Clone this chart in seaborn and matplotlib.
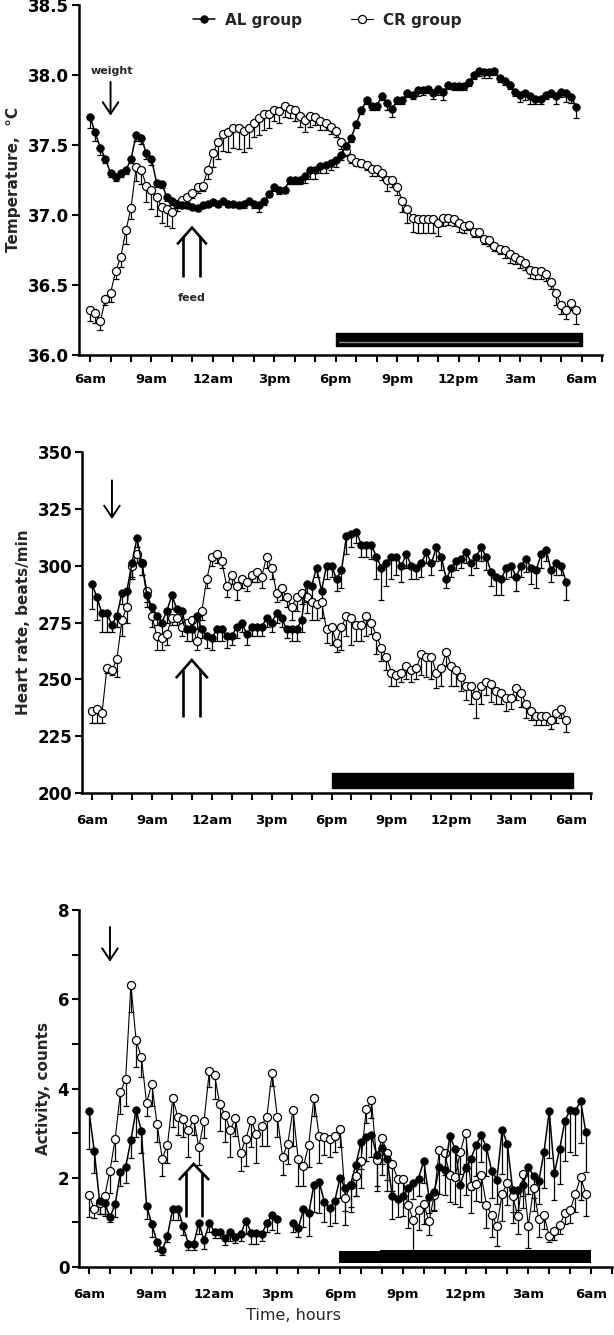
import numpy as np
import pandas as pd
import matplotlib
matplotlib.use("Agg")
import matplotlib.pyplot as plt
import seaborn as sns
from matplotlib.patches import Rectangle

# ---------------- data (15-min means, 6am -> 5:45am) ----------------
hours = np.arange(0, 24, 0.25)
tick_hours = [0, 3, 6, 9, 12, 15, 18, 21, 24]
tick_labels = ["6am", "9am", "12am", "3pm", "6pm", "9pm", "12pm", "3am", "6am"]
series_names = ["AL group", "CR group"]

temp_al = [37.70, 37.59, 37.48, 37.40, 37.30, 37.27, 37.30, 37.32, 37.40, 37.57,
           37.55, 37.44, 37.40, 37.23, 37.22, 37.13, 37.10, 37.08, 37.07, 37.07,
           37.06, 37.05, 37.07, 37.08, 37.09, 37.08, 37.10, 37.08, 37.08, 37.07,
           37.08, 37.10, 37.08, 37.07, 37.10, 37.15, 37.20, 37.18, 37.18, 37.25,
           37.25, 37.25, 37.28, 37.32, 37.32, 37.35, 37.36, 37.37, 37.39, 37.43,
           37.49, 37.55, 37.65, 37.75, 37.82, 37.78, 37.78, 37.85, 37.80, 37.76,
           37.82, 37.82, 37.87, 37.86, 37.89, 37.89, 37.90, 37.87, 37.90, 37.88,
           37.93, 37.92, 37.92, 37.92, 37.95, 38.00, 38.03, 38.02, 38.02, 38.03,
           37.98, 37.96, 37.93, 37.88, 37.86, 37.87, 37.85, 37.83, 37.83, 37.86,
           37.87, 37.85, 37.88, 37.87, 37.84, 37.77]
temp_al_err = [.08, .06, .05, .03, .03, .03, .03, .03, .03, .04,
               .04, .04, .04, .03, .03, .03, .03, .03, .02, .02,
               .02, .02, .02, .02, .02, .02, .02, .02, .02, .02,
               .03, .02, .03, .05, .03, .02, .03, .03, .02, .03,
               .03, .03, .05, .06, .06, .05, .06, .05, .05, .04,
               .03, .03, .03, .03, .03, .03, .03, .03, .05, .06,
               .03, .03, .03, .03, .04, .03, .03, .04, .04, .06,
               .03, .03, .03, .03, .03, .03, .04, .04, .04, .03,
               .03, .03, .03, .03, .05, .05, .06, .04, .04, .03,
               .03, .06, .04, .06, .04, .08]
temp_cr = [36.32, 36.30, 36.24, 36.40, 36.44, 36.60, 36.70, 36.89, 37.05, 37.34,
           37.32, 37.21, 37.18, 37.13, 37.06, 37.04, 37.02, 37.08, 37.11, 37.13,
           37.16, 37.20, 37.21, 37.32, 37.44, 37.52, 37.58, 37.59, 37.62, 37.62,
           37.60, 37.62, 37.66, 37.69, 37.72, 37.72, 37.75, 37.74, 37.78, 37.76,
           37.75, 37.71, 37.68, 37.71, 37.70, 37.67, 37.66, 37.63, 37.60, 37.52,
           37.46, 37.41, 37.38, 37.37, 37.36, 37.33, 37.33, 37.30, 37.25, 37.25,
           37.20, 37.10, 37.04, 36.98, 36.97, 36.97, 36.97, 36.97, 36.94, 36.98,
           36.98, 36.97, 36.94, 36.92, 36.93, 36.88, 36.88, 36.83, 36.82, 36.78,
           36.76, 36.75, 36.72, 36.70, 36.68, 36.66, 36.61, 36.60, 36.60, 36.58,
           36.52, 36.44, 36.36, 36.32, 36.37, 36.32]
temp_cr_err = [.08, .07, .06, .04, .06, .06, .07, .10, .08, .10,
               .10, .12, .14, .14, .12, .12, .11, .05, .05, .05,
               .04, .04, .04, .06, .10, .12, .12, .14, .14, .15,
               .15, .14, .10, .12, .11, .10, .08, .08, .08, .07,
               .08, .08, .09, .08, .06, .06, .05, .05, .04, .05,
               .04, .04, .03, .03, .04, .05, .05, .05, .08, .05,
               .06, .08, .10, .10, .10, .10, .10, .10, .09, .06,
               .05, .05, .06, .05, .04, .04, .04, .04, .04, .04,
               .04, .06, .06, .05, .06, .05, .06, .06, .06, .05,
               .05, .08, .07, .06, .05, .10]

hr_al = [292, 286, 279, 279, 274, 278, 288, 289, 301, 312,
         301, 287, 282, 278, 275, 280, 287, 281, 280, 272,
         272, 278, 272, 269, 268, 272, 272, 269, 269, 273,
         275, 270, 273, 273, 273, 277, 275, 279, 277, 272,
         272, 272, 276, 292, 291, 299, 289, 300, 300, 294,
         298, 313, 314, 315, 309, 309, 309, 304, 299, 301,
         304, 304, 300, 305, 300, 299, 301, 306, 301, 308,
         304, 294, 299, 302, 303, 306, 301, 304, 308, 304,
         297, 295, 294, 299, 300, 295, 300, 303, 299, 298,
         305, 307, 298, 301, 300, 293]
hr_al_err = [11, 10, 8, 8, 3, 5, 5, 8, 6, 4,
             5, 5, 5, 4, 5, 5, 6, 5, 6, 5,
             5, 6, 4, 5, 5, 5, 5, 5, 4, 5,
             4, 5, 4, 4, 4, 4, 4, 4, 4, 4,
             5, 5, 5, 8, 6, 4, 4, 6, 5, 5,
             8, 8, 6, 5, 5, 5, 6, 10, 14, 10,
             10, 8, 7, 6, 6, 5, 6, 5, 5, 6,
             6, 4, 4, 4, 4, 5, 5, 5, 6, 6,
             6, 8, 7, 5, 5, 6, 5, 6, 7, 8,
             6, 5, 5, 5, 4, 8]
hr_cr = [236, 237, 235, 255, 254, 259, 276, 282, 300, 305,
         301, 289, 278, 269, 268, 270, 277, 277, 273, 275,
         276, 267, 280, 294, 304, 305, 302, 291, 296, 291,
         294, 293, 296, 297, 295, 304, 299, 288, 290, 286,
         282, 286, 288, 286, 284, 283, 284, 272, 273, 266,
         273, 278, 277, 274, 274, 278, 275, 269, 264, 260,
         253, 252, 253, 256, 254, 255, 261, 260, 260, 253,
         255, 262, 256, 254, 251, 247, 247, 243, 247, 249,
         248, 245, 244, 242, 242, 246, 244, 239, 236, 234,
         234, 234, 232, 235, 237, 232]
hr_cr_err = [5, 6, 4, 2, 2, 8, 7, 7, 6, 4,
             5, 5, 5, 6, 5, 5, 3, 3, 4, 4,
             4, 4, 4, 4, 4, 4, 3, 5, 4, 6,
             4, 4, 3, 4, 5, 5, 5, 4, 5, 4,
             6, 6, 5, 7, 8, 7, 7, 6, 8, 4,
             10, 9, 12, 7, 7, 9, 5, 8, 6, 6,
             6, 5, 4, 6, 5, 5, 9, 9, 10, 7,
             8, 6, 9, 7, 6, 6, 8, 10, 8, 6,
             8, 6, 5, 6, 5, 5, 6, 6, 4, 4,
             4, 4, 4, 4, 4, 5]

nan = np.nan
act_al = [3.49, 2.60, 1.49, 1.44, 1.11, 1.41, 2.12, 2.24, 2.84, 3.52,
          3.05, 1.37, 0.97, 0.56, 0.37, 0.70, 1.31, 1.31, 0.91, 0.52,
          0.52, 0.99, 0.60, 0.99, 0.79, 0.79, 0.64, 0.79, 0.68, 0.73,
          1.04, 0.77, 0.77, 0.73, 0.98, 1.17, 1.07, nan, nan, 0.98,
          0.87, 1.29, 1.20, 1.84, 1.91, 1.46, 1.32, 1.49, 2.00, 1.76,
          1.84, 2.29, 2.79, 2.92, 2.96, 2.51, 2.66, 2.41, 1.58, 1.52,
          1.59, 1.76, 1.88, 1.98, 2.38, 1.57, 1.68, 2.23, 2.17, 2.93,
          2.65, 1.84, 2.22, 2.42, 2.73, 2.95, 2.68, 2.15, 1.96, 3.08,
          2.75, 1.73, 1.72, 1.83, 2.23, 2.05, 1.92, 2.58, 3.49, 2.11,
          2.65, 3.28, 3.52, 3.50, 3.72, 3.02]
act_al_err = [0.85, 0.50, 0.30, 0.30, 0.10, 0.30, 0.30, 0.35, 0.40, 0.60,
              0.50, 0.30, 0.30, 0.20, 0.10, 0.15, 0.25, 0.25, 0.20, 0.15,
              0.15, 0.25, 0.20, 0.20, 0.15, 0.15, 0.15, 0.20, 0.15, 0.15,
              0.30, 0.25, 0.25, 0.15, 0.20, 0.35, 0.30, nan, nan, 0.20,
              0.20, 0.40, 0.50, 0.60, 0.70, 0.45, 0.40, 0.50, 0.45, 0.50,
              0.50, 0.70, 0.60, 0.55, 0.50, 0.70, 0.60, 0.70, 0.50, 0.40,
              0.45, 0.40, 0.35, 0.40, 0.50, 0.35, 0.40, 0.60, 0.55, 0.80,
              0.70, 0.50, 0.60, 0.70, 0.70, 0.60, 0.65, 0.60, 0.55, 1.00,
              0.80, 0.50, 0.45, 0.50, 0.60, 0.50, 0.50, 0.80, 1.05, 0.60,
              0.80, 0.90, 0.95, 1.00, 0.95, 0.90]
act_cr = [1.62, 1.29, 1.44, 1.59, 2.16, 2.87, 3.92, 4.21, 6.32, 5.08,
          4.71, 3.68, 4.10, 3.21, 2.43, 2.74, 3.78, 3.36, 3.31, 3.06,
          3.31, 2.69, 3.28, 4.39, 4.31, 3.65, 3.41, 3.07, 3.33, 2.56,
          2.87, 3.30, 2.98, 3.17, 3.37, 4.35, 3.37, 2.47, 2.76, 3.52,
          2.41, 2.26, 2.74, 3.78, 2.94, 2.92, 2.87, 2.93, 3.10, 1.54,
          1.83, 2.03, 2.38, 3.53, 3.74, 2.40, 2.90, 2.56, 2.30, 1.98,
          1.98, 1.38, 1.06, 1.27, 1.42, 1.02, 1.61, 2.63, 2.56, 2.06,
          2.02, 2.58, 3.01, 1.82, 1.87, 2.06, 1.38, 1.17, 0.92, 1.64,
          1.89, 1.59, 1.14, 2.08, 0.92, 1.76, 1.07, 1.16, 0.70, 0.81,
          0.94, 1.21, 1.28, 1.64, 2.01, 1.64]
act_cr_err = [0.50, 0.20, 0.25, 0.40, 0.50, 0.50, 0.50, 0.60, 0.60, 0.60,
              0.45, 0.30, 0.50, 0.40, 0.40, 0.40, 0.65, 0.40, 0.40, 0.60,
              0.35, 0.40, 0.40, 0.35, 0.55, 0.60, 0.60, 0.60, 0.40, 0.40,
              0.60, 0.60, 0.65, 0.45, 0.65, 0.30, 0.45, 0.40, 0.45, 0.80,
              0.60, 0.45, 0.50, 0.40, 0.60, 0.40, 0.40, 0.35, 0.40, 0.60,
              0.60, 0.45, 0.60, 0.30, 0.40, 0.70, 0.60, 0.60, 0.60, 0.40,
              0.40, 0.50, 0.70, 0.45, 0.45, 0.30, 0.35, 0.40, 0.50, 0.60,
              0.60, 0.50, 0.70, 0.60, 0.40, 0.60, 0.50, 0.50, 0.45, 0.60,
              0.50, 0.60, 0.40, 0.50, 0.50, 0.50, 0.40, 0.30, 0.15, 0.20,
              0.20, 0.25, 0.30, 0.40, 0.50, 0.50]

# ---------------- style ----------------
sns.set_theme(style="ticks")
plt.rcParams["font.family"] = ["DejaVu Sans"]
plt.rcParams["font.weight"] = "bold"
plt.rcParams["axes.labelweight"] = "bold"
plt.rcParams["axes.edgecolor"] = "black"
plt.rcParams["xtick.color"] = "black"
plt.rcParams["ytick.color"] = "black"

fig = plt.figure(figsize=(6.14, 13.35), dpi=100)
W, H = 614.0, 1335.0


def add_ax(left, right, top, bottom):
    return fig.add_axes([left / W, 1 - bottom / H, (right - left) / W, (bottom - top) / H])


ax1 = add_ax(79, 602, 5, 355)
ax2 = add_ax(82, 591, 452, 793)
ax3 = add_ax(79, 612, 910, 1267)


def draw_series(ax, al, al_err, cr, cr_err, label=True):
    zeros = np.zeros(len(hours))
    ax.errorbar(hours, cr, yerr=[np.nan_to_num(cr_err), zeros], fmt="none", ecolor="black",
                elinewidth=0.9, capsize=2.0, capthick=0.9, zorder=2)
    ax.errorbar(hours, al, yerr=[np.nan_to_num(al_err), zeros], fmt="none", ecolor="black",
                elinewidth=0.9, capsize=2.0, capthick=0.9, zorder=2)
    al_arr = np.array(al, dtype=float)
    seg = np.cumsum(np.isnan(al_arr))
    df_al = pd.DataFrame({"h": hours, "v": al_arr, "seg": seg}).dropna()
    df_cr = pd.DataFrame({"h": hours, "v": cr})
    sns.lineplot(data=df_cr, x="h", y="v", ax=ax, color="black", lw=0.8, marker="o",
                 markersize=5.8, markerfacecolor="white", markeredgecolor="black",
                 markeredgewidth=0.9, estimator=None, sort=False, zorder=3,
                 label=series_names[1] if label else None, legend=False)
    sns.lineplot(data=df_al, x="h", y="v", units="seg", ax=ax, color="black", lw=1.1,
                 marker="o", markersize=5.4, markerfacecolor="black", markeredgecolor="black",
                 markeredgewidth=0.6, estimator=None, sort=False, zorder=4,
                 label=series_names[0] if label else None, legend=False)


def style_axis(ax, xlim, ylim, yticks, ylabels, ylabel, xpad, yminor=None):
    ax.set_xlim(*xlim)
    ax.set_ylim(*ylim)
    ax.set_xticks(tick_hours)
    ax.set_xticklabels(tick_labels, fontsize=9.5, fontweight="bold")
    ax.set_xticks([h for h in range(0, 26) if h not in tick_hours], minor=True)
    ax.set_yticks(yticks)
    ax.set_yticklabels(ylabels, fontsize=12, fontweight="bold")
    if yminor is not None:
        ax.set_yticks(yminor, minor=True)
    ax.tick_params(axis="x", which="both", length=5, width=1.5, pad=xpad, direction="out")
    ax.tick_params(axis="y", which="both", length=5, width=1.5, pad=2, direction="out")
    for s in ["top", "right"]:
        ax.spines[s].set_visible(False)
    for s in ["left", "bottom"]:
        ax.spines[s].set_linewidth(1.8)
        ax.spines[s].set_color("black")
    ax.set_xlabel("")
    ax.set_ylabel(ylabel, fontsize=11, fontweight="bold", labelpad=5)
    ax.grid(False)


def down_arrow(ax, x, y0, y1):
    ax.annotate("", xy=(x, y1), xytext=(x, y0),
                arrowprops=dict(arrowstyle="->,head_width=0.4,head_length=0.6",
                                lw=1.4, color="black", mutation_scale=14, shrinkA=0, shrinkB=0))


def feed_arrow(ax, xl, xr, xwl, xwr, xa, ybot, ywing, yapex):
    lw = 1.9
    ax.plot([xwl, xa, xwr], [ywing, yapex, ywing], color="black", lw=lw, solid_capstyle="butt",
            solid_joinstyle="miter", zorder=5)
    for xs, xw in ((xl, xwl), (xr, xwr)):
        yt = ywing + (xs - xw) / (xa - xw) * (yapex - ywing)
        ax.plot([xs, xs], [ybot, yt], color="black", lw=lw, solid_capstyle="butt", zorder=5)


# ---------------- panel 1: temperature ----------------
draw_series(ax1, temp_al, temp_al_err, temp_cr, temp_cr_err, label=True)
style_axis(ax1, (-0.54, 25.0), (36.0, 38.5), [36.0, 36.5, 37.0, 37.5, 38.0, 38.5],
           ["36.0", "36.5", "37.0", "37.5", "38.0", "38.5"], "Temperature,  °C", 8)
ax1.add_patch(Rectangle((12, 36.064), 12, 0.093, facecolor="black", edgecolor="black", zorder=3))
ax1.plot([12.15, 23.85], [36.093, 36.093], color="#8a8a8a", lw=1.0, zorder=4)
down_arrow(ax1, 1.0, 37.95, 37.71)
ax1.text(1.05, 38.03, "weight", ha="center", va="center", fontsize=8, fontweight="bold")
feed_arrow(ax1, 4.55, 5.35, 4.25, 5.7, 4.98, 36.56, 36.79, 36.91)
ax1.text(4.95, 36.41, "feed", ha="center", va="center", fontsize=8, fontweight="bold")
h, l = ax1.get_legend_handles_labels()
order = [l.index(series_names[0]), l.index(series_names[1])]
ax1.legend([h[i] for i in order], [l[i] for i in order], loc="center",
           bbox_to_anchor=(0.475, 0.957), ncol=2, frameon=False, handlelength=1.4,
           columnspacing=3.2, handletextpad=0.7, prop=dict(weight="bold", size=11))

# ---------------- panel 2: heart rate ----------------
draw_series(ax2, hr_al, hr_al_err, hr_cr, hr_cr_err, label=False)
style_axis(ax2, (-0.5, 25.0), (200, 350), [200, 225, 250, 275, 300, 325, 350],
           ["200", "225", "250", "275", "300", "325", "350"], "Heart rate, beats/min", 10)
ax2.add_patch(Rectangle((12, 202.2), 12.1, 6.6, facecolor="black", edgecolor="black", zorder=3))
down_arrow(ax2, 1.0, 337.5, 320.5)
feed_arrow(ax2, 4.55, 5.4, 4.2, 5.8, 5.0, 233.5, 250.5, 258.5)

# ---------------- panel 3: activity ----------------
draw_series(ax3, act_al, act_al_err, act_cr, act_cr_err, label=False)
style_axis(ax3, (-0.48, 25.0), (0, 8), [0, 2, 4, 6, 8], ["0", "2", "4", "6", "8"],
           "Activity, counts", 10, yminor=[1, 3, 5, 7])
ax3.add_patch(Rectangle((11.95, 0.08), 2.0, 0.28, facecolor="black", edgecolor="none", zorder=3))
ax3.add_patch(Rectangle((13.9, 0.08), 10.1, 0.31, facecolor="black", edgecolor="none", zorder=3))
down_arrow(ax3, 1.0, 7.62, 6.84)
feed_arrow(ax3, 4.64, 5.4, 4.3, 5.74, 5.0, 1.12, 1.95, 2.31)

fig.text(293 / W, 1 - 1315 / H, "Time, hours", ha="center", va="center", fontsize=11.5,
         fontweight="normal")

fig.savefig("out.png", dpi=100)
